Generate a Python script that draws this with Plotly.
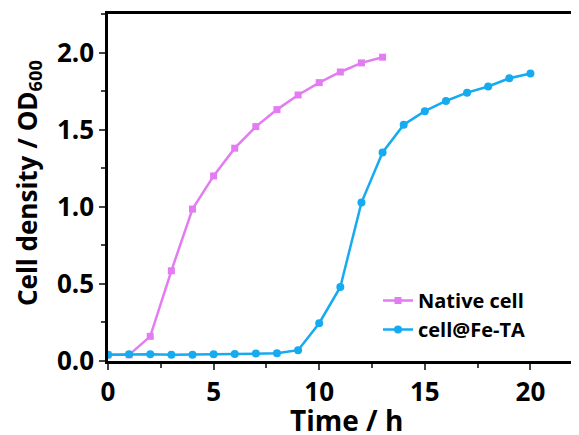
import plotly.graph_objects as go

native_x = list(range(0, 14))
native_y = [0.04, 0.04, 0.16, 0.585, 0.985, 1.20, 1.38, 1.52, 1.63, 1.725, 1.805, 1.874, 1.933, 1.97]
feta_x = list(range(0, 21))
feta_y = [0.04, 0.043, 0.043, 0.04, 0.04, 0.043, 0.045, 0.048, 0.05, 0.07, 0.245, 0.48, 1.027, 1.352,
          1.532, 1.62, 1.686, 1.74, 1.78, 1.833, 1.864]

x_ticks = [0, 5, 10, 15, 20]
y_ticks = [0.0, 0.5, 1.0, 1.5, 2.0]
y_tick_labels = ["0.0", "0.5", "1.0", "1.5", "2.0"]

FONT = "Open Sans"
OFF = 8  # page body margin
W, H = 579 - OFF, 435 - OFF
L, R, T, B = 108 - OFF, 0, 14 - OFF, 74

# target (page) pixel coordinates -> paper coords
pw = W - L - R
ph = H - T - B
def px(x):
    return (x - OFF - L) / pw
def py(y):
    return (H - B - (y - OFF)) / ph

fig = go.Figure()
fig.add_trace(go.Scatter(x=native_x, y=native_y, mode="lines+markers", name="<b>Native cell</b>",
                         line=dict(color="#E37CF2", width=2.5),
                         marker=dict(symbol="square", size=7, color="#E37CF2")))
fig.add_trace(go.Scatter(x=feta_x, y=feta_y, mode="lines+markers", name="<b>cell@Fe-TA</b>",
                         line=dict(color="#16AAF0", width=2.5),
                         marker=dict(symbol="circle", size=8, color="#16AAF0")))

fig.update_layout(
    width=W, height=H,
    margin=dict(l=L, r=R, t=T, b=B),
    paper_bgcolor="white", plot_bgcolor="white",
    font=dict(family=FONT, color="black"),
    showlegend=True,
    legend=dict(x=px(378), y=py(281), xanchor="left", yanchor="top",
                bgcolor="rgba(0,0,0,0)",
                font=dict(size=20, family=FONT, color="black"), tracegroupgap=0, itemwidth=30),
    xaxis=dict(range=[0, 22.3], tickvals=x_ticks, ticktext=["<b>%d</b>" % v for v in x_ticks],
               ticks="outside", ticklen=6, tickwidth=2, automargin=False,
               showline=True, linewidth=2.5, linecolor="black", mirror=True, showgrid=False,
               zeroline=False, tickfont=dict(size=26, family=FONT),
               minor=dict(dtick=2.5, tick0=0, ticks="outside", ticklen=4, tickwidth=2, showgrid=False)),
    yaxis=dict(range=[0, 2.25], tickvals=y_ticks, ticktext=["<b>%s</b>" % t for t in y_tick_labels],
               ticks="outside", ticklen=6, tickwidth=2, automargin=False,
               showline=True, linewidth=2.5, linecolor="black", showgrid=False, zeroline=False,
               tickfont=dict(size=26, family=FONT),
               minor=dict(dtick=0.25, tick0=0, ticks="outside", ticklen=4, tickwidth=2, showgrid=False)),
    annotations=[
        dict(text="<b>Time / h</b>", xref="paper", yref="paper",
             x=px(346), y=py(420), xanchor="center", yanchor="middle",
             showarrow=False, font=dict(size=28, family=FONT, color="black")),
        dict(text="<b>Cell density / OD<sub>600</sub></b>", xref="paper", yref="paper",
             x=px(28), y=py(183), xanchor="center", yanchor="middle",
             textangle=-90, showarrow=False, font=dict(size=26, family=FONT, color="black")),
    ],
)
fig.write_html("out.html")
